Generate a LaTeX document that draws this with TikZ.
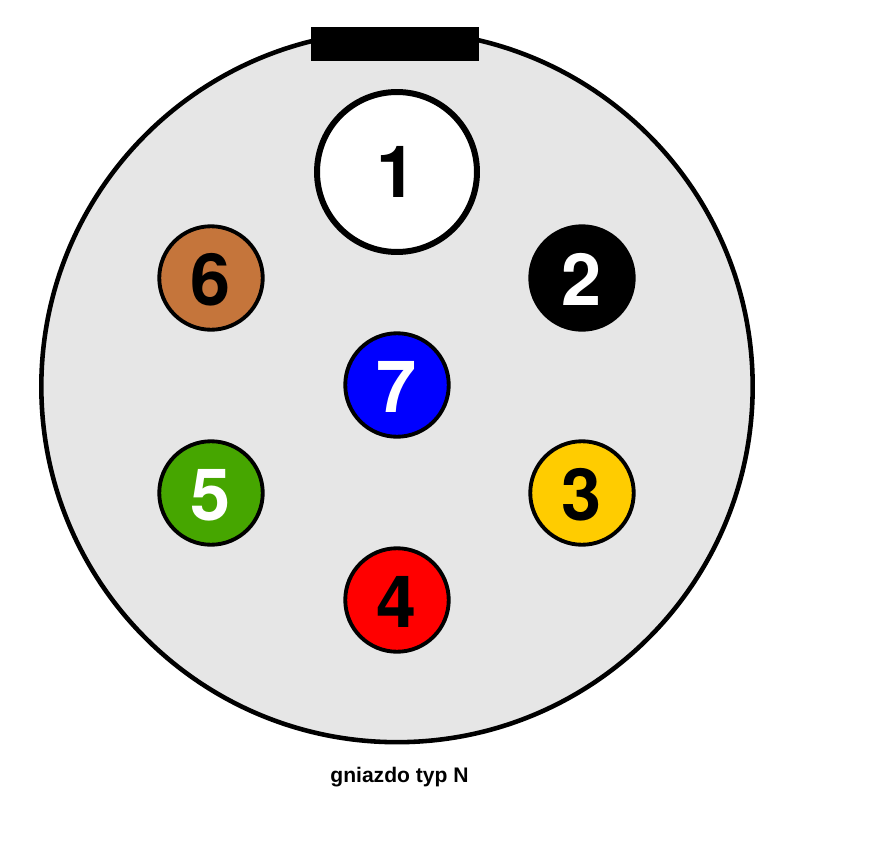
\documentclass[tikz,border=0pt]{standalone}
\usepackage{fontspec}
\usepackage{xcolor}
\usepackage{tikz}
\setmainfont{Liberation Sans}
\newfontfamily\pinfont{TeX Gyre Heros}

\definecolor{shellgray}{HTML}{E6E6E6}
\definecolor{pinbrown}{HTML}{C5753B}
\definecolor{pingreen}{HTML}{46A600}
\definecolor{pinyellow}{HTML}{FFCC00}

\begin{document}
\begin{tikzpicture}[
    x=0.02cm, y=-0.02cm,
    pin/.style={circle, draw, line width=2.2pt, minimum size=2.07cm, inner sep=0pt, align=center, text height=31.3pt, text depth=0pt, font=\pinfont\fontsize{41}{41}\selectfont\bfseries},
    bigpin/.style={pin, line width=3.4pt, minimum size=3.2cm, text height=29pt}
]

% Page
\useasboundingbox (0, 0) rectangle (883, 852);

%==============================================================================
% Socket body
%==============================================================================
\node[circle, draw, fill=shellgray, line width=2.6pt, minimum size=14.23cm, inner sep=0pt] (shell) at (397, 386.5) {};
\node[rectangle, fill=black, minimum width=3.38cm, minimum height=0.68cm, inner sep=0pt] (key) at (395, 44) {};

%==============================================================================
% Pins
%==============================================================================
\node[bigpin, fill=white] (pin1) at (397, 172) {1};
\node[pin, fill=black, text=white] (pin2) at (582, 278) {2};
\node[pin, fill=pinyellow] (pin3) at (582, 493) {3};
\node[pin, fill=red] (pin4) at (397, 600) {4};
\node[pin, fill=pingreen, text=white] (pin5) at (211, 493) {5};
\node[pin, fill=pinbrown] (pin6) at (211, 278) {6};
\node[pin, fill=blue, text=white] (pin7) at (397, 385) {7};

% Caption
\node[font=\fontsize{12}{14}\selectfont\bfseries] (caption) at (399.5, 777) {gniazdo typ N};

\end{tikzpicture}
\end{document}
